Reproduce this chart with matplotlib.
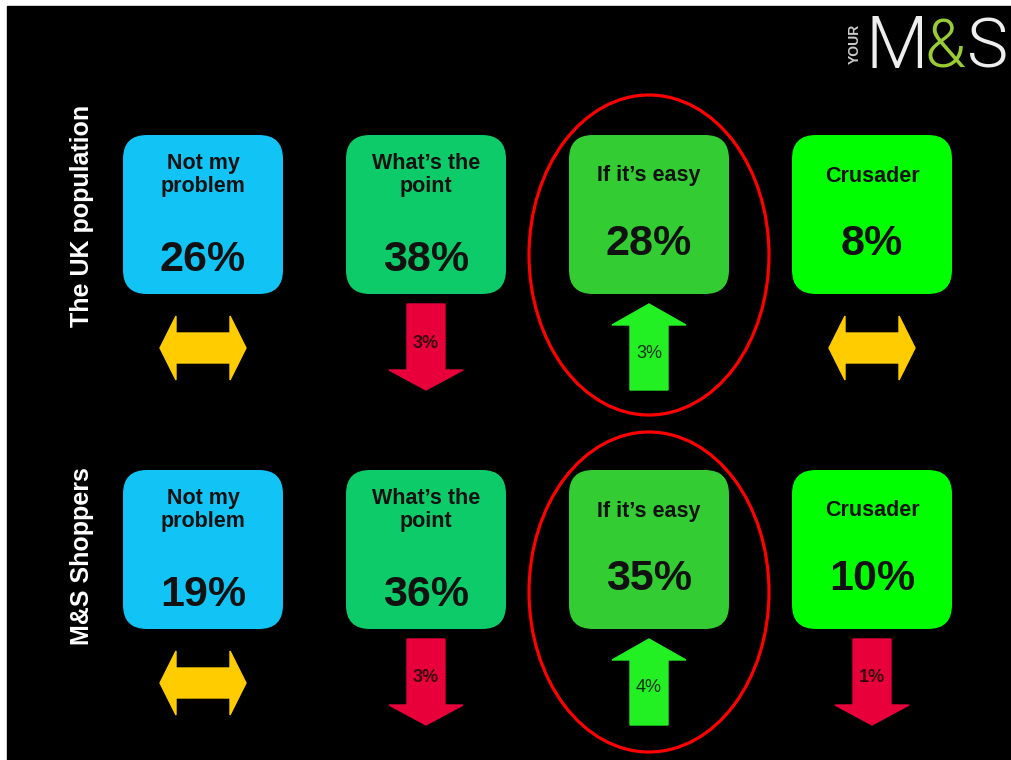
import matplotlib.pyplot as plt
from matplotlib.patches import FancyBboxPatch, Ellipse, Polygon, Rectangle

# segments and shares (percent) for the two groups
segments = ["Not my\nproblem", "What\u2019s the\npoint", "If it\u2019s easy", "Crusader"]
uk_share = [26, 38, 28, 8]
ms_share = [19, 36, 35, 10]
# change in points: 0 = no change (double arrow)
uk_change = [0, -3, 3, 0]
ms_change = [0, -3, 4, -1]
row_labels = ["The UK population", "M&S Shoppers"]
highlight = 2

box_colors = ["#12C3F5", "#0ECB6A", "#33CC33", "#00FF00"]
FONT = ["Liberation Sans", "DejaVu Sans"]

fig = plt.figure(figsize=(10.11, 7.6), dpi=100, facecolor="white")
ax = fig.add_axes([0, 0, 1, 1])
ax.set_xlim(0, 1011)
ax.set_ylim(760, 0)
ax.axis("off")

# black slide background (thin white margin left and top)
ax.add_patch(Rectangle((7, 6), 1011, 760, color="black", zorder=0))


def double_arrow(cx, cy):
    L, hl, hh, sh = 43, 16, 32, 15
    pts = [(cx - L, cy), (cx - L + hl, cy - hh), (cx - L + hl, cy - sh),
           (cx + L - hl, cy - sh), (cx + L - hl, cy - hh), (cx + L, cy),
           (cx + L - hl, cy + hh), (cx + L - hl, cy + sh),
           (cx - L + hl, cy + sh), (cx - L + hl, cy + hh)]
    ax.add_patch(Polygon(pts, closed=True, color="#FFCC00", zorder=3))


def down_arrow(cx, top, label):
    sw, hw = 19, 37
    pts = [(cx - sw, top), (cx + sw, top), (cx + sw, top + 66), (cx + hw, top + 66),
           (cx, top + 86), (cx - hw, top + 66), (cx - sw, top + 66)]
    ax.add_patch(Polygon(pts, closed=True, color="#E8003A", zorder=3))
    ax.text(cx, top + 39, label, ha="center", va="center", fontsize=13,
            fontweight="bold", color="#3a0010", family=FONT, zorder=4)


def up_arrow(cx, top, label):
    sw, hw = 19, 37
    pts = [(cx, top), (cx + hw, top + 21), (cx + sw, top + 21), (cx + sw, top + 86),
           (cx - sw, top + 86), (cx - sw, top + 21), (cx - hw, top + 21)]
    ax.add_patch(Polygon(pts, closed=True, color="#22F022", zorder=3))
    ax.text(cx, top + 49, label, ha="center", va="center", fontsize=13,
            color="#103010", family=FONT, zorder=4)


for r, (shares, changes) in enumerate([(uk_share, uk_change), (ms_share, ms_change)]):
    dy = 335 * r
    top = 135 + dy
    for i, (seg, val, ch) in enumerate(zip(segments, shares, changes)):
        cx = 203 + 223 * i
        ax.add_patch(FancyBboxPatch((cx - 80, top), 160, 159,
                                    boxstyle="round,pad=0,rounding_size=24",
                                    fc=box_colors[i], ec="none", zorder=2))
        two_lines = "\n" in seg
        ax.text(cx, top + (40 if two_lines else 41), seg, ha="center", va="center",
                fontsize=15.5, fontweight="bold", color="#111111", family=FONT,
                linespacing=1.15, zorder=4)
        ax.text(cx, top + (125 if two_lines else 109), f"{val}%", ha="center",
                va="center", fontsize=31, fontweight="bold", color="#111111",
                family=FONT, zorder=4)
        if ch == 0:
            double_arrow(cx, 348 + dy)
        elif ch < 0:
            down_arrow(cx, 304 + dy, f"{abs(ch)}%")
        else:
            up_arrow(cx, 304 + dy, f"{ch}%")
    # circle around highlighted segment
    ax.add_patch(Ellipse((203 + 223 * highlight, 255 + dy + 2 * r), 240, 320,
                         fill=False, ec="#FF0000", lw=2.3, zorder=5))
    ax.text(82, 216 + dy + 5 * r, row_labels[r], rotation=90, ha="center",
            va="center", fontsize=18, fontweight="bold", color="white",
            family=FONT)

# logo
logo_font = ["Roboto", "DejaVu Sans"]
ax.text(865, 68, "M", fontsize=52, fontweight=300, color="#EEEEEE",
        family=logo_font, ha="left", va="baseline")
ax.text(925, 68, "&", fontsize=48, fontweight=300, color="#99CC33",
        family=logo_font, ha="left", va="baseline")
ax.text(967, 68, "S", fontsize=50, fontweight=300, color="#EEEEEE",
        family=logo_font, ha="left", va="baseline")
ax.text(855, 44, "YOUR", rotation=90, fontsize=10, fontweight="bold",
        color="#CCCCCC", family=FONT, ha="center", va="center")

fig.savefig("out.png", dpi=100, facecolor="white")
